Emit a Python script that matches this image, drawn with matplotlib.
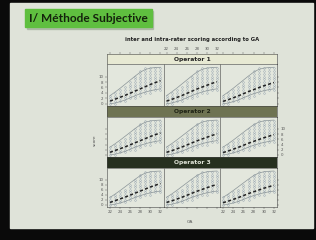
import matplotlib
matplotlib.use("Agg")
import matplotlib.pyplot as plt
from matplotlib.patches import Rectangle

W, H = 316, 240
fig = plt.figure(figsize=(W/100, H/100), dpi=100)
fig.patch.set_facecolor("#0a0a0a")

def fx(x): return x / W
def fy(y): return 1 - y / H

# data
ga = [22, 23, 24, 25, 26, 27, 28, 29, 30, 31, 32]
operators = ["Operator 1", "Operator 2", "Operator 3"]
mean_score = [
    [1.0, 1.7, 2.4, 3.1, 3.9, 4.7, 5.5, 6.3, 7.1, 7.8, 8.5],
    [1.0, 1.6, 2.3, 3.0, 3.8, 4.6, 5.4, 6.1, 6.8, 7.5, 8.1],
    [0.9, 1.5, 2.2, 2.9, 3.7, 4.5, 5.2, 5.9, 6.6, 7.2, 7.8],
]
upper_line = [3.0, 4.3, 5.7, 7.2, 8.7, 10.2, 11.6, 12.6, 13.1, 13.3, 13.4]
lower_line = [0.0, 0.3, 0.8, 1.4, 2.2, 3.0, 3.7, 4.3, 4.8, 5.2, 5.5]
score_lo = [0, 0, 1, 1, 2, 2, 3, 4, 4, 5, 5]
score_hi = [3, 4, 5, 6, 8, 10, 12, 13, 13, 13, 13]
xticks = [22, 24, 26, 28, 30, 32]
yticks = [0, 2, 4, 6, 8, 10]

slide = "#dfe3d9"
bg = fig.add_axes([0, 0, 1, 1]); bg.set_axis_off()
bg.set_xlim(0, W); bg.set_ylim(H, 0)
bg.add_patch(Rectangle((10, 3), 303, 225, color=slide))
bg.add_patch(Rectangle((27, 11), 126, 18, color="#9aa893", alpha=0.6))
bg.add_patch(Rectangle((25, 9), 127, 18, color="#5fbf3f"))
bg.text(29, 18.5, "I/ Méthode Subjective", fontsize=8.6, fontweight="bold",
        color="#14220c", va="center", ha="left", family="Lato")
bg.text(192, 39, "inter and intra-rater scoring according to GA", fontsize=3.8,
        fontweight="bold", color="#202020", ha="center", va="center")
bg.text(190, 222, "GA", fontsize=3.2, color="#555555", ha="center", va="center")
bg.text(95, 140, "score", fontsize=3.2, color="#555555", ha="center", va="center", rotation=90)

cols = [(107, 163.5), (163.5, 220), (220, 277)]
rows = [(54, 64, 106), (106, 117, 157), (157, 168, 207)]
strip_col = ["#e7e9d3", "#6e7352", "#26301f"]
strip_txt = ["#222222", "#1e2214", "#e0e4d8"]
xlim = (21.4, 32.6)

for r, (s0, p0, p1) in enumerate(rows):
    sa = fig.add_axes([fx(107), fy(p0), fx(277 - 107), (p0 - s0) / H])
    sa.set_facecolor(strip_col[r]); sa.set_xticks([]); sa.set_yticks([])
    for sp in sa.spines.values():
        sp.set_linewidth(0.4); sp.set_color("#444444")
    sa.text(0.5, 0.5, operators[r], transform=sa.transAxes, ha="center", va="center",
            fontsize=4.3, fontweight="bold", color=strip_txt[r])
    for c, (x0, x1) in enumerate(cols):
        if r == 0:
            ta = fig.add_axes([fx(x0), fy(p0), (x1 - x0) / W, (p0 - s0) / H])
            ta.patch.set_visible(False)
            for sp in ta.spines.values():
                sp.set_visible(False)
            ta.set_xlim(*xlim); ta.set_yticks([]); ta.set_xticks(xticks)
            ta.tick_params(axis="x", length=1.5, width=0.3, labelsize=2.8, colors="#555555",
                           pad=1, top=True, bottom=False, labelbottom=False,
                           labeltop=(c == 1))
        ax = fig.add_axes([fx(x0), fy(p1), (x1 - x0) / W, (p1 - p0) / H])
        ax.set_facecolor("#e3e7dd")
        ax.set_xlim(*xlim); ax.set_ylim(-0.8, 14.6)
        for g, lo, hi in zip(ga, score_lo, score_hi):
            ys = list(range(lo, hi + 1))
            ax.plot([g] * len(ys), ys, "o", ms=1.2, mfc="none", mec="#8a98a8", mew=0.3)
        ax.plot(ga, upper_line, color="#8a9498", lw=0.5)
        ax.plot(ga, lower_line, color="#8a9498", lw=0.5)
        ax.plot(ga, mean_score[c], color="#222222", lw=1.1, ls=(0, (2, 1.5)))
        for sp in ax.spines.values():
            sp.set_linewidth(0.4); sp.set_color("#444444")
        ax.set_xticks(xticks); ax.set_yticks(yticks)
        ax.tick_params(length=1.5, width=0.3, labelsize=2.8, colors="#555555", pad=1,
                       top=False, bottom=(r == 2),
                       left=(c == 0), right=(c == 2),
                       labeltop=False, labelbottom=(r == 2 and c != 1),
                       labelleft=(c == 0 and r != 1), labelright=(c == 2 and r == 1))

fig.savefig("out.png", dpi=100, facecolor=fig.get_facecolor())
